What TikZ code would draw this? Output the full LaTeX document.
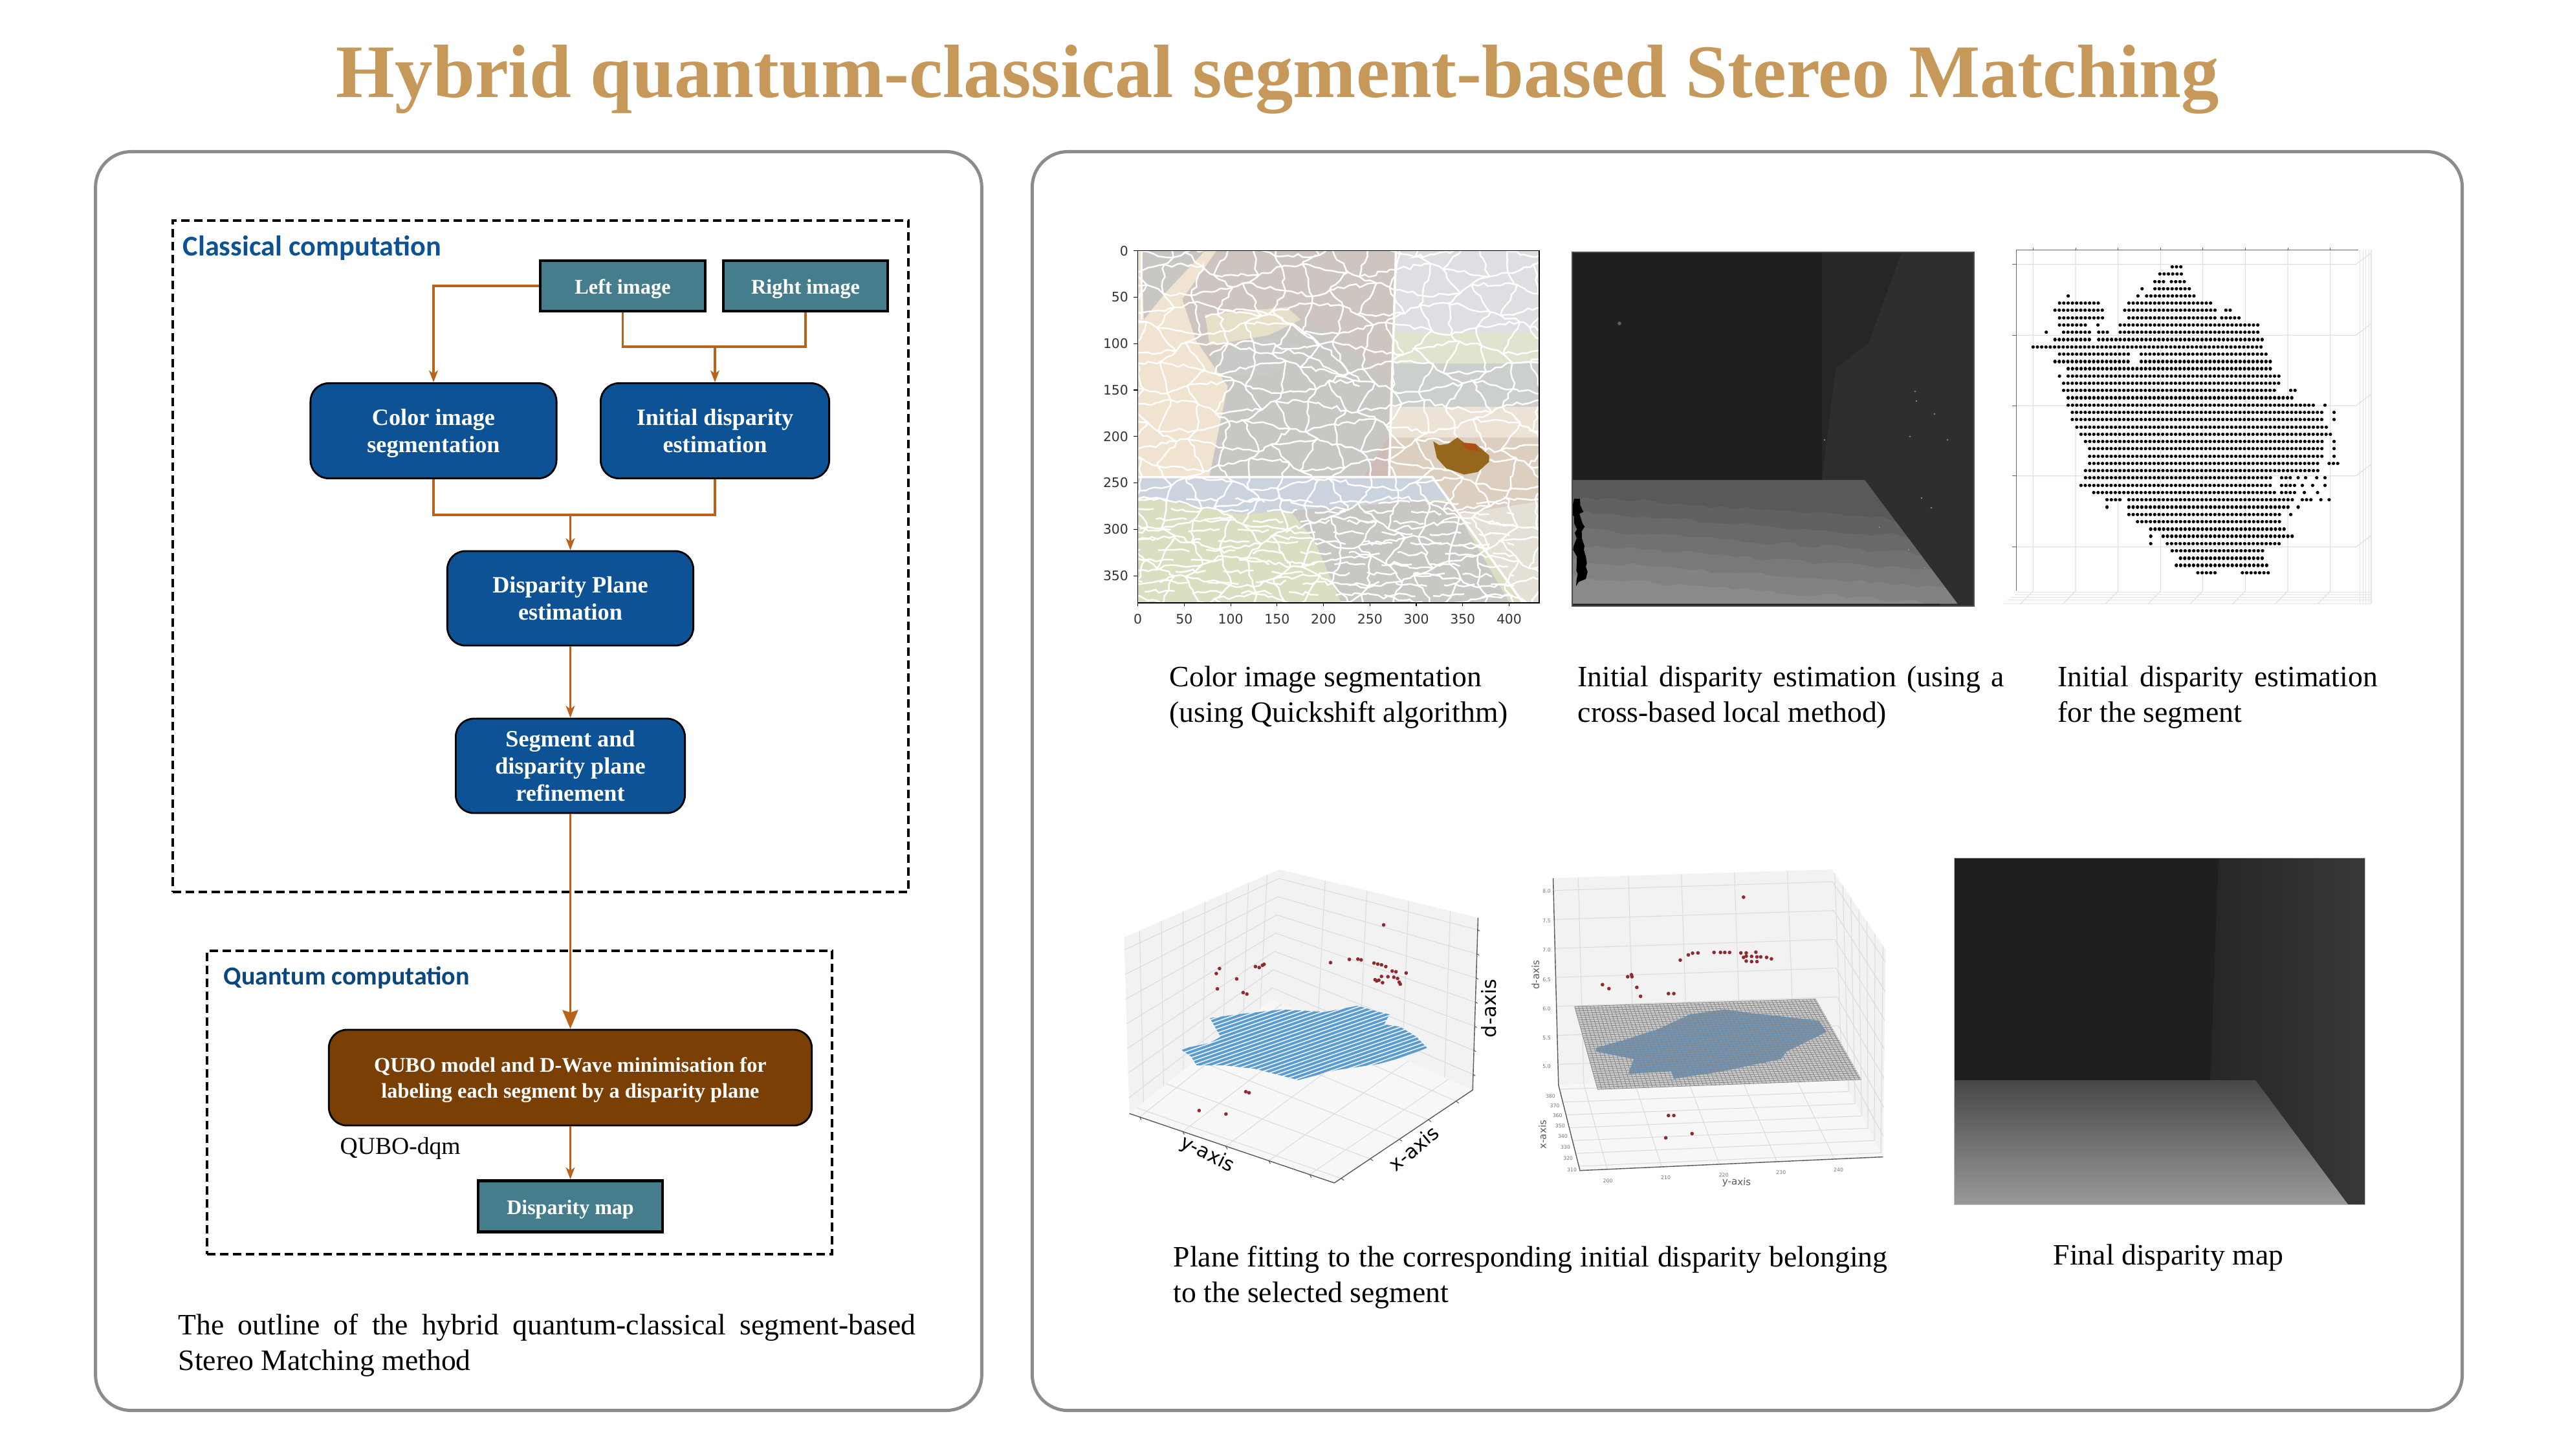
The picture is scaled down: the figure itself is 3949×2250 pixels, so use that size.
\documentclass[tikz,border=0pt]{standalone}
\usepackage{fontspec}
\setmainfont{Liberation Serif}
\newfontfamily\labelfont{Carlito}
\newfontfamily\plotfont{DejaVu Sans}
\usetikzlibrary{arrows.meta,calc,decorations.pathmorphing}

\definecolor{titlegold}{HTML}{C6985A}
\definecolor{blockblue}{HTML}{0D5295}
\definecolor{blockteal}{HTML}{457D8C}
\definecolor{blockbrown}{HTML}{7A3F05}
\definecolor{flowline}{HTML}{B8621A}
\definecolor{panelgray}{HTML}{8C8C8C}
\definecolor{stripeblue}{HTML}{5B9CCF}
\definecolor{dotred}{HTML}{8E2A30}
\definecolor{planeblue}{HTML}{7096B8}
\definecolor{segsand}{HTML}{F0E3D0}
\definecolor{segmauve}{HTML}{CFC5C0}
\definecolor{seggray}{HTML}{C9C7C4}
\definecolor{segsky}{HTML}{DEDFE2}
\definecolor{segoat}{HTML}{E2E3CF}
\definecolor{segslate}{HTML}{CCD0CC}
\definecolor{segcream}{HTML}{ECE3D6}
\definecolor{segpeach}{HTML}{DDCFC0}
\definecolor{segpale}{HTML}{E5E0D5}
\definecolor{segolive}{HTML}{DCDEC2}
\definecolor{segblue}{HTML}{CBD3DF}
\definecolor{segbrown}{HTML}{96661E}

\begin{document}
\begin{tikzpicture}[x=0.01cm,y=-0.01cm,>={Stealth[length=5.2pt,width=3.9pt,inset=1.4pt]},
  panel/.style={draw=panelgray,line width=1.4pt,rounded corners=0.55cm},
  dash box/.style={draw=black,line width=1.1pt,dash pattern=on 3.7pt off 2pt},
  blue node/.style={draw=black,fill=blockblue,text=white,line width=.8pt,rounded corners=.28cm,align=center,
    font=\fontsize{10.3}{12}\selectfont\bfseries},
  brown node/.style={blue node,fill=blockbrown,font=\fontsize{9.2}{11.6}\selectfont\bfseries},
  teal node/.style={draw=black,fill=blockteal,text=white,line width=1.3pt,text height=7.2pt,text depth=0pt,
    font=\fontsize{9.2}{11}\selectfont\bfseries},
  head label/.style={anchor=west,inner sep=0,text=blockblue,font=\fontsize{12.6}{14}\selectfont\labelfont\bfseries},
  cap node/.style={anchor=north west,inner sep=0,font=\fontsize{13}{15.6}\selectfont},
  flow/.style={draw=flowline,line width=1.05pt},
  seg line/.style={white,line width=.7pt,decorate,decoration={random steps,segment length=2.4pt,amplitude=.9pt}},
  wall line/.style={white,line width=1pt},
  tick lab/.style={inner sep=0,font=\fontsize{5.8}{7}\selectfont\plotfont,text=black!80},
  tiny lab/.style={inner sep=0,font=\fontsize{2.2}{3}\selectfont\plotfont,text=black!55},
  pane grid/.style={draw=black!14,line width=.3pt},
  dot row/.style={line width=1.5pt,line cap=round,dash pattern=on .01pt off 1.88pt},
  red dot/.style={fill=dotred}]

  \path[use as bounding box,fill=white] (0,0) rectangle (3949,2250);

  \node[inner sep=0,text=titlegold,font=\fontsize{33.2}{38}\selectfont\bfseries] (title) at (1975,123)
    {Hybrid quantum-classical segment-based Stereo Matching};

  % panels
  \node[panel,minimum width=13.69cm,minimum height=19.45cm] (leftpanel) at (832.5,1207.5) {};
  \node[panel,minimum width=22.09cm,minimum height=19.45cm] (rightpanel) at (2700.5,1207.5) {};
  \node[dash box,minimum width=11.37cm,minimum height=10.38cm] (classical) at (835.5,860) {};
  \node[dash box,minimum width=9.66cm,minimum height=4.69cm] (quantum) at (803,1704.5) {};

  \node[head label] (classicaltxt) at (282,383) {Classical computation};
  \node[head label,text=blockblue!85!black,font=\fontsize{11.4}{13}\selectfont\labelfont\bfseries] (quantumtxt) at (345,1512) {Quantum computation};

  % flow chart
  \node[teal node,minimum width=2.55cm,minimum height=.78cm] (left) at (962.5,442) {Left image};
  \node[teal node,minimum width=2.54cm,minimum height=.78cm] (right) at (1245,442) {Right image};
  \node[blue node,minimum width=3.8cm,minimum height=1.47cm] (colorseg) at (670,666) {Color image\\\smash{segmentation}};
  \node[blue node,minimum width=3.53cm,minimum height=1.47cm] (initdisp) at (1105,666) {Initial disparity\\estimation};
  \node[blue node,minimum width=3.8cm,minimum height=1.46cm] (plane) at (881.5,925) {Disparity Plane\\estimation};
  \node[blue node,minimum width=3.54cm,minimum height=1.46cm] (refine) at (881.5,1184) {Segment and\\disparity plane\\refinement};
  \node[brown node,minimum width=7.46cm,minimum height=1.48cm] (qubo) at (881.5,1666)
    {QUBO model and D-Wave minimisation for\\\smash{labeling each segment by a disparity plane}};
  \node[teal node,font=\fontsize{9.1}{11}\selectfont\bfseries,minimum width=2.85cm,minimum height=.79cm] (dmap) at (881.5,1865) {Disparity map};
  \node[inner sep=0,anchor=west,font=\fontsize{10.7}{13}\selectfont] (dqm) at (525,1775) {QUBO-dqm};

  \coordinate (join1) at (1105,536);
  \coordinate (join2) at (881.5,796);
  \path[flow]
    (left.west) edge[->,to path={-| (\tikztotarget)}] (colorseg.north)
    (left.south) edge[to path={|- (\tikztotarget)}] (join1)
    (right.south) edge[to path={|- (\tikztotarget)}] (join1)
    (join1) edge[->] (initdisp)
    (colorseg.south) edge[to path={|- (\tikztotarget)}] (join2)
    (initdisp.south) edge[to path={|- (\tikztotarget)}] (join2)
    (join2) edge[->] (plane)
    (plane) edge[->] (refine)
    (qubo) edge[->] (dmap);
  \draw[flow,-{Stealth[length=8.2pt,width=6.8pt,inset=1pt]}] (refine) -- (qubo);

  \node[cap node,text width=11.39cm,align=justify] (cap0) at (275,2031)
    {The outline of the hybrid quantum-classical segment-based Stereo Matching method};

  % image 1: segmentation
  \begin{scope}[shift={(1680,360)},x=0.00702cm,y=-0.003954cm]
    \begin{scope}
      \clip (112,70) rectangle (995,1447);
      \fill[segpale] (112,70) rectangle (995,1447);
      \fill[seggray] (120,70) -- (260,70) -- (170,240) -- (125,340) -- cycle;
      \fill[segsand] (112,70) -- (120,70) -- (125,340) -- (170,240) -- (260,70) -- (285,70) -- (210,260) -- (240,420) -- (310,600) -- (270,950) -- (112,950) -- cycle;
      \fill[segmauve] (285,70) -- (680,70) -- (660,950) -- (270,950) -- (310,600) -- (240,420) -- (210,260) -- cycle;
      \fill[seggray] (480,330) -- (660,560) -- (660,800) -- (610,950) -- (270,950) -- (310,600) -- (270,480) -- cycle;
      \fill[seggray!85!segblue] (280,470) -- (400,410) -- (470,440) -- (400,560) -- (300,560) -- cycle;
      \fill[segolive!50!segsand] (260,320) -- (440,290) -- (470,340) -- (400,400) -- (270,440) -- cycle;
      \fill[segmauve!95!red] (610,950) -- (665,950) -- (670,780) -- cycle;
      \fill[segsky] (680,70) rectangle (995,390);
      \fill[segoat] (675,390) rectangle (995,510);
      \fill[segslate] (672,510) rectangle (995,680);
      \fill[segcream] (668,680) rectangle (995,800);
      \fill[segpeach] (665,800) -- (995,800) -- (995,1050) -- (820,1100) -- (760,950) -- (665,950) -- cycle;
      \fill[segpale] (820,1100) -- (995,1050) -- (995,1447) -- (960,1447) -- cycle;
      \fill[segolive] (112,958) -- (760,958) -- (960,1447) -- (112,1447) -- cycle;
      \fill[seggray] (430,1050) -- (800,1050) -- (930,1447) -- (560,1447) -- (500,1200) -- cycle;
      \fill[segblue] (112,958) -- (760,958) -- (800,1040) -- (340,1100) -- (112,1030) -- cycle;
      \pgfmathsetseed{11}
      \foreach \i in {-1,...,14} \foreach \j in {-1,...,18} {
        \pgfmathsetmacro{\ax}{112+\i*63+22*sin(\i*137+\j*211)}
        \pgfmathsetmacro{\ay}{70+\j*76+26*sin(\i*83+\j*157)}
        \pgfmathsetmacro{\bx}{112+(\i+1)*63+22*sin((\i+1)*137+\j*211)}
        \pgfmathsetmacro{\by}{70+\j*76+26*sin((\i+1)*83+\j*157)}
        \pgfmathsetmacro{\cx}{112+\i*63+22*sin(\i*137+(\j+1)*211)}
        \pgfmathsetmacro{\cy}{70+(\j+1)*76+26*sin(\i*83+(\j+1)*157)}
        \draw[seg line] (\bx,\by) -- (\ax,\ay) -- (\cx,\cy);
      }
      \foreach \k in {0,...,9}
        \draw[seg line,dash pattern=on 14pt off 8pt,dash phase=\k*7pt] (112,{1040+\k*40}) -- (940,{1060+\k*40});
      \draw[wall line] (120,70) -- (120,340);
      \draw[wall line] (680,70) -- (665,950);
      \draw[wall line] (112,955) -- (760,955) -- (960,1447);
      \draw[seg line] (260,330) .. controls (350,270) and (450,290) .. (600,580);
      \draw[seg line] (270,480) .. controls (330,400) and (430,400) .. (600,600);
    \end{scope}
    \fill[segbrown] (762,815) -- (775,830) -- (795,825) -- (815,800) -- (830,820) -- (855,825) -- (885,870) -- (885,895) -- (860,935) -- (830,945) -- (790,920) -- (770,880) -- cycle;
    \fill[segbrown!75!red] (825,822) -- (855,825) -- (862,855) -- (835,845) -- cycle;
    \draw[black,line width=.4pt] (112,70) rectangle (995,1447);
    \foreach \v in {0,50,...,400} {
      \draw[line width=.3pt] ({112+\v*2.0425},1447) -- ({112+\v*2.0425},1460);
      \node[tick lab] (xt\v) at ({112+\v*2.0425},1510) {\v};
    }
    \foreach \v in {0,50,...,350} {
      \draw[line width=.3pt] (112,{70+\v*3.63}) -- (102,{70+\v*3.63});
      \node[tick lab,anchor=east] (yt\v) at (92,{70+\v*3.63}) {\v};
    }
  \end{scope}

  % image 2: initial disparity
  \fill[black!88] (2430,390) rectangle (3051,937);
  \fill[black!85] (2828,390) -- (2939,390) -- (2888,530) -- (2837,570) -- (2816,742) -- (2816,390) -- cycle;
  \fill[black!82] (2939,390) -- (3051,390) -- (3051,937) -- (3000,937) -- (2882,742) -- (2816,742) -- (2837,570) -- (2888,530) -- cycle;
  \begin{scope}
    \clip (2430,742) -- (2882,742) -- (3025,933) -- (2430,933) -- cycle;
    \fill[black!65] (2430,742) rectangle (3051,937);
    \pgfmathsetseed{5}
    \foreach \k in {0,...,5} {
      \pgfmathsetmacro{\shadelevel}{62-\k*3.2}
      \fill[black!\shadelevel,decorate,decoration={random steps,segment length=5pt,amplitude=1pt}]
        (2400,{765+\k*25}) -- (3100,{815+\k*25}) -- (3100,1000) -- (2400,1000) -- cycle;
    }
  \end{scope}
  \fill[black,decorate,decoration={random steps,segment length=2.5pt,amplitude=1pt}]
    (2433,771) -- (2442,771) -- (2451,860) -- (2451,895) -- (2436,906) -- cycle;
  \draw[black!70,line width=.5pt] (2430,390) rectangle (3051,937);
  \fill[black!62] (2503,500) circle (.8pt);
  \foreach \sx/\sy in {2820/680,2960/605,2962/620,2990/640,2952/675,3010/680,2970/770,2985/785,2905/815,2880/880,2950/850,2975/878}
    \fill[black!45] (\sx,\sy) circle (.4pt);

  % image 3: segment points
  \begin{scope}[shift={(2700,360)},x=0.006378cm,y=-0.003954cm]
    \foreach \t in {693,796,899,1002,1104,1207,1310,1413} {
      \draw[black!12,line width=.35pt] (\t,60) -- (\t,1400) -- ({\t-30},1450);
      \draw[black!60,line width=.3pt] (\t,57) -- (\t,67);
    }
    \foreach \t in {123,400,676,950,1228} {
      \draw[black!12,line width=.35pt] (645,\t) -- (1475,\t) -- (1512,{\t-45});
      \draw[black!60,line width=.3pt] (643,\t) -- (653,\t);
    }
    \foreach \t in {1405,1415,1425,1435,1450}
      \draw[black!10,line width=.3pt] ({660-(\t-1400)*.8},\t) -- (1512,\t);
    \foreach \t in {1485,1492,1499,1506,1512}
      \draw[black!10,line width=.3pt] (\t,66) -- (\t,1450);
    \draw[black!60,line width=.4pt] (1480,67) -- (653,67) -- (653,1398);
    \foreach \zy/\from/\to in {133/1030/1055,161/1000/1055,190/988/1012,190/1028/1065,218/957/958,218/988/1075,
      247/778/788,247/947/948,247/968/1085,275/757/852,275/925/1128,303/746/863,303/915/1140,303/1160/1180,
      332/757/863,332/925/1140,332/1150/1200,360/757/820,360/850/851,360/904/1243,389/725/726,389/767/830,389/852/873,389/904/1243,
      417/746/830,417/852/1253,446/693/1253,474/757/925,474/955/1265,503/746/925,503/955/1275,531/778/1275,
      560/757/758,560/778/1295,588/767/1295,616/767/1285,616/1317/1335,645/778/1327,673/778/1380,673/1400/1401,
      702/788/1400,702/1422/1423,730/788/1400,730/1422/1423,759/799/1411,787/809/1422,816/820/1400,816/1422/1423,
      844/830/1400,844/1422/1423,873/830/1400,873/1422/1423,901/830/1390,901/1410/1432,930/820/1390,
      958/820/1275,958/1295/1317,958/1335/1336,958/1353/1354,958/1380/1381,958/1400/1401,
      987/809/1275,987/1295/1327,987/1345/1346,987/1370/1371,987/1400/1401,1015/840/1285,1015/1295/1327,1015/1350/1360,1015/1382/1383,
      1044/872/905,1044/925/1327,1044/1345/1370,1044/1390/1391,1044/1410/1411,1072/872/873,1072/925/1317,1072/1335/1336,
      1101/925/1295,1101/1317/1318,1129/946/1295,1158/978/1305,1186/978/979,1186/1008/1327,1215/978/979,1215/1018/1295,
      1243/1030/1253,1272/1050/1253,1300/1040/1265,1329/1092/1138,1329/1200/1265}
      \draw[dot row] (\from,\zy) -- (\to,\zy);
  \end{scope}

  % images 4 and 5: plane fitting
  \begin{scope}[shift={(1700,1300)},x=0.00829cm,y=-0.003827cm]
    \coordinate (pa) at (45,390);
    \coordinate (pb) at (335,115);
    \coordinate (pc) at (705,310);
    \coordinate (pd) at (55,1100);
    \coordinate (pe) at (320,640);
    \coordinate (pf) at (695,1005);
    \coordinate (pg) at (437,1380);
    \fill[black!5] (pa) -- (pb) -- (pc) -- (pf) -- (pe) -- (pd) -- cycle;
    \fill[black!3] (pd) -- (pe) -- (pf) -- (pg) -- cycle;
    \foreach \t in {.1,.24,.38,.52,.66,.8,.92}
      \draw[pane grid] ($(pa)!\t!(pb)$) -- ($(pd)!\t!(pe)$);
    \foreach \t in {.23,.44,.65,.86}
      \draw[pane grid] ($(pb)!\t!(pc)$) -- ($(pe)!\t!(pf)$);
    \foreach \t in {.07,.21,.35,.49,.63,.77,.91} {
      \draw[pane grid] ($(pa)!\t!(pd)$) -- ($(pb)!\t!(pe)$) -- ($(pc)!\t!(pf)$);
      \draw[black!65,line width=.3pt] ($(pc)!\t!(pf)$) -- ++(4,5);
    }
    \foreach \t in {.05,.26,.47,.68,.88} {
      \draw[pane grid] ($(pd)!\t!(pg)$) -- ($(pe)!\t!(pf)$);
      \draw[pane grid] ($(pg)!\t!(pf)$) -- ($(pd)!\t!(pe)$);
      \draw[black!65,line width=.3pt] ($(pd)!\t!(pg)$) -- ++(3,12);
      \draw[black!65,line width=.3pt] ($(pg)!\t!(pf)$) -- ++(5,8);
    }
    \draw[black!65,line width=.4pt] (pd) -- (pg) -- (pf) -- (pc);
    \begin{scope}
      \clip (205,715) -- (255,700) -- (340,680) -- (420,690) -- (480,665) -- (520,690) -- (540,700) -- (530,740) -- (560,750) -- (590,790) -- (610,835) -- (570,870) -- (520,900) -- (440,925) -- (370,965) -- (290,920) -- (230,905) -- (180,905) -- (170,870) -- (150,840) -- (205,815) -- (225,790) -- cycle;
      \fill[blue!4] (100,600) rectangle (700,1000);
      \foreach \k in {0,...,60}
        \draw[stripeblue,line width=1.1pt] (100,{700+\k*15.7}) -- (700,{245+\k*15.7});
    \end{scope}
    \foreach \px/\py in {529/339,217/535,223/515,255/557,219/597,267/612,274/618,290/507,297/511,303/502,306/498,
      430/491,465/478,481/477,487/480,511/493,518/497,525/500,533/507,545/525,552/528,571/533,525/547,537/548,548/550,555/555,
      513/560,520/562,527/572,516/565,558/570,560/578,272/1012,278/1016,185/1088,235/1102}
      \fill[red dot] (\px,\py) circle (.8pt);
    \node[inner sep=0,rotate=-27,font=\fontsize{8.6}{10}\selectfont\plotfont] (ylab) at (200,1265) {y-axis};
    \node[inner sep=0,rotate=40,font=\fontsize{8.6}{10}\selectfont\plotfont] (xlab) at (585,1240) {x-axis};
    \node[inner sep=0,rotate=90,font=\fontsize{8.6}{10}\selectfont\plotfont] (dlab) at (725,675) {d-axis};

    \coordinate (qa) at (845,150);
    \coordinate (qb) at (1365,115);
    \coordinate (qc) at (855,985);
    \coordinate (qd) at (1380,945);
    \coordinate (qe) at (1465,440);
    \coordinate (qf) at (1460,1275);
    \coordinate (qg) at (895,1330);
    \fill[black!5] (qa) -- (qb) -- (qe) -- (qf) -- (qd) -- (qc) -- cycle;
    \fill[black!3] (qc) -- (qd) -- (qf) -- (qg) -- cycle;
    \foreach \t in {.06,.2,.34,.48,.62,.76,.9}
      \draw[pane grid] ($(qa)!\t!(qc)$) -- ($(qb)!\t!(qd)$) -- ($(qe)!\t!(qf)$);
    \foreach \t in {.09,.27,.46,.65,.84}
      \draw[pane grid] ($(qa)!\t!(qb)$) -- ($(qc)!\t!(qd)$) -- ($(qg)!\t!(qf)$);
    \foreach \t in {.05,.2,.35,.5,.65,.8,.95} {
      \draw[pane grid] ($(qc)!\t!(qg)$) -- ($(qd)!\t!(qf)$);
      \draw[pane grid] ($(qb)!\t!(qe)$) -- ($(qd)!\t!(qf)$);
    }
    \draw[black!65,line width=.4pt] (qa) -- (qc) -- (qg) -- (qf);
    \coordinate (pl1) at (885,668);
    \coordinate (pl2) at (1335,638);
    \coordinate (pl3) at (1420,963);
    \coordinate (pl4) at (928,1003);
    \fill[black!20] (pl1) -- (pl2) -- (pl3) -- (pl4) -- cycle;
    \fill[planeblue] (925,835) -- (975,805) -- (1040,760) -- (1100,700) -- (1165,680) -- (1215,695) -- (1340,725) -- (1355,770) -- (1280,850) -- (1270,880) -- (1160,930) -- (1070,960) -- (1065,930) -- (985,940) -- (995,880) -- (925,850) -- cycle;
    \foreach \t in {0,0.016,...,1}
      \draw[black!48,line width=.22pt] ($(pl1)!\t!(pl2)$) -- ($(pl4)!\t!(pl3)$);
    \foreach \t in {0,0.027,...,1}
      \draw[black!48,line width=.22pt] ($(pl1)!\t!(pl4)$) -- ($(pl2)!\t!(pl3)$);
    \foreach \px/\py in {1200/227,1082/481,1097/460,1105/453,1115/452,1145/450,1157/450,1165/450,1174/450,1195/452,1205/452,1223/449,
      1205/465,1215/466,1225/468,1232/468,1243/470,1252/476,1200/470,1205/485,1215/487,1225/487,984/548,991/540,992/548,
      937/580,949/596,1001/591,1008/627,1060/616,1070/616,1060/1108,1070/1108,1055/1198,1104/1181}
      \fill[red dot] (\px,\py) circle (.8pt);
    \foreach \lab/\lx/\ly in {8.0/833/203,7.5/833/322,7.0/833/441,6.5/833/560,6.0/833/677,5.5/833/795,5.0/833/910,
      380/840/1030,370/848/1070,360/853/1108,350/858/1150,340/863/1193,330/868/1236,320/873/1280,310/880/1328,
      200/947/1372,210/1055/1360,220/1163/1348,230/1270/1338,240/1377/1328}
      \node[tiny lab] (tk\lab) at (\lx,\ly) {\lab};
    \node[inner sep=0,rotate=-3,text=black!65,font=\fontsize{4.3}{5}\selectfont\plotfont] (ylab2) at (1187,1378) {y-axis};
    \node[inner sep=0,rotate=90,text=black!65,font=\fontsize{4.3}{5}\selectfont\plotfont] (dlab2) at (812,540) {d-axis};
    \node[inner sep=0,rotate=90,text=black!65,font=\fontsize{4.3}{5}\selectfont\plotfont] (xlab2) at (825,1185) {x-axis};
  \end{scope}

  % image 6: final disparity
  \shade[left color=black!85,right color=black!78] (3416,1326) -- (3655,1326) -- (3655,1862) -- (3416,1862) -- cycle;
  \fill[black!88] (3020,1326) -- (3429,1326) -- (3416,1670) -- (3020,1670) -- cycle;
  \shade[shading angle=-25,top color=black!72,bottom color=black!40] (3020,1670) -- (3486,1670) -- (3629,1862) -- (3020,1862) -- cycle;
  \draw[black!25,line width=.3pt] (3020,1326) rectangle (3655,1862);

  % captions
  \node[cap node,align=left] (cap1) at (1807,1029) {Color image segmentation\\(using Quickshift algorithm)};
  \node[cap node,text width=6.59cm,align=justify] (cap2) at (2438,1029) {Initial disparity estimation (using a cross-based local method)};
  \node[cap node,text width=4.94cm,align=justify] (cap3) at (3180,1029) {Initial disparity estimation for the segment};
  \node[cap node,text width=11.03cm,align=justify] (cap4) at (1813,1926) {Plane fitting to the corresponding initial disparity belonging to the selected segment};
  \node[cap node] (cap5) at (3173,1923) {Final disparity map};

\end{tikzpicture}
\end{document}
